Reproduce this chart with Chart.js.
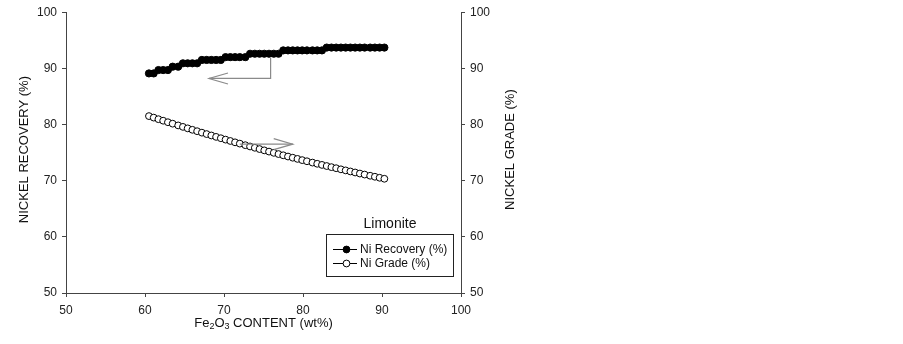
<!DOCTYPE html>
<html>
<head>
<meta charset="utf-8">
<script src="https://cdn.jsdelivr.net/npm/chart.js@4.4.1/dist/chart.umd.min.js"></script>
<style>
  html, body { margin: 0; padding: 0; background: #fff; }
  #wrap { width: 903px; height: 344px; }
</style>
</head>
<body>
<div id="wrap"><canvas id="chart" width="903" height="344"></canvas></div>
<script>
// Dados
const feContent = [
  60.5, 61.1, 61.7, 62.3, 62.9, 63.5, 64.2, 64.8, 65.4, 66.0,
  66.6, 67.2, 67.8, 68.4, 69.0, 69.6, 70.2, 70.8, 71.4, 72.0,
  72.7, 73.3, 73.9, 74.5, 75.1, 75.7, 76.3, 76.9, 77.5, 78.1,
  78.7, 79.3, 79.9, 80.5, 81.2, 81.8, 82.4, 83.0, 83.6, 84.2,
  84.8, 85.4, 86.0, 86.6, 87.2, 87.8, 88.5, 89.1, 89.7, 90.3
];
const niRecovery = [
  89.1, 89.1, 89.7, 89.7, 89.7, 90.3, 90.3, 90.9, 90.9, 90.9,
  90.9, 91.5, 91.5, 91.5, 91.5, 91.5, 92.0, 92.0, 92.0, 92.0,
  92.0, 92.6, 92.6, 92.6, 92.6, 92.6, 92.6, 92.6, 93.2, 93.2,
  93.2, 93.2, 93.2, 93.2, 93.2, 93.2, 93.2, 93.7, 93.7, 93.7,
  93.7, 93.7, 93.7, 93.7, 93.7, 93.7, 93.7, 93.7, 93.7, 93.7
];
const niGrade = [
  81.50, 81.23, 80.95, 80.68, 80.41, 80.15, 79.84, 79.58, 79.32, 79.06,
  78.81, 78.55, 78.30, 78.05, 77.80, 77.56, 77.31, 77.07, 76.83, 76.60,
  76.32, 76.09, 75.86, 75.63, 75.40, 75.18, 74.96, 74.74, 74.52, 74.30,
  74.09, 73.88, 73.66, 73.46, 73.22, 73.01, 72.81, 72.61, 72.41, 72.22,
  72.02, 71.83, 71.64, 71.46, 71.27, 71.09, 70.88, 70.70, 70.52, 70.34
];
const seriesNames = ['Ni Recovery (%)', 'Ni Grade (%)'];
const legendTitle = 'Limonite';
const leftTitle = 'NICKEL RECOVERY (%)';
const rightTitle = 'NICKEL GRADE (%)';
const xRange = [50, 100];
const yRange = [50, 100];

// Setas indicando o eixo de cada série (coordenadas em dados)
const recoveryArrow = { x: 75.9, yTop: 91.9, yCorner: 88.2, xTip: 68.1 };
const gradeArrow = { xStart: 72.0, xTip: 78.7, y: 76.5 };

const FONT = "'Liberation Sans', Arial, sans-serif";
const AXIS_COLOR = '#444';
const ARROW_COLOR = '#8a8a8a';

function toPoints(xs, ys) {
  return xs.map((x, i) => ({ x: x, y: ys[i] }));
}

// Desenha uma ponta de seta aberta
function arrowHead(ctx, tipX, tipY, dir) {
  ctx.beginPath();
  ctx.moveTo(tipX - dir * 19, tipY - 5.5);
  ctx.lineTo(tipX, tipY);
  ctx.lineTo(tipX - dir * 19, tipY + 5.5);
  ctx.stroke();
}

const extrasPlugin = {
  id: 'extras',
  afterDraw(chart) {
    const ctx = chart.ctx;
    const xs = chart.scales.x;
    const yl = chart.scales.y;
    const yr = chart.scales.y2;
    const area = chart.chartArea;
    const midY = (area.top + area.bottom) / 2 - 3;

    ctx.save();
    ctx.fillStyle = '#111';
    ctx.textBaseline = 'middle';
    ctx.textAlign = 'center';
    ctx.font = '13px ' + FONT;

    // Títulos dos eixos Y (lidos de baixo para cima)
    ctx.save();
    ctx.translate(24, midY);
    ctx.rotate(-Math.PI / 2);
    ctx.fillText(leftTitle, 0, 0);
    ctx.restore();

    ctx.save();
    ctx.translate(510, midY);
    ctx.rotate(-Math.PI / 2);
    ctx.fillText(rightTitle, 0, 0);
    ctx.restore();

    // Título do eixo X com subscritos
    const parts = [['Fe', 0], ['2', 1], ['O', 0], ['3', 1], [' CONTENT (wt%)', 0]];
    const big = '13px ' + FONT, small = '9px ' + FONT;
    let total = 0;
    parts.forEach(p => { ctx.font = p[1] ? small : big; total += ctx.measureText(p[0]).width; });
    let cx = (area.left + area.right) / 2 - total / 2;
    const ty = 323;
    ctx.textAlign = 'left';
    parts.forEach(p => {
      ctx.font = p[1] ? small : big;
      ctx.fillText(p[0], cx, p[1] ? ty + 4 : ty);
      cx += ctx.measureText(p[0]).width;
    });

    // Setas
    ctx.strokeStyle = ARROW_COLOR;
    ctx.lineWidth = 1.2;
    const ax = xs.getPixelForValue(recoveryArrow.x);
    const ayTop = yl.getPixelForValue(recoveryArrow.yTop);
    const ayCorner = yl.getPixelForValue(recoveryArrow.yCorner);
    const axTip = xs.getPixelForValue(recoveryArrow.xTip);
    ctx.beginPath();
    ctx.moveTo(ax, ayTop);
    ctx.lineTo(ax, ayCorner);
    ctx.lineTo(axTip, ayCorner);
    ctx.stroke();
    arrowHead(ctx, axTip, ayCorner, -1);

    const gx0 = xs.getPixelForValue(gradeArrow.xStart);
    const gx1 = xs.getPixelForValue(gradeArrow.xTip);
    const gy = yr.getPixelForValue(gradeArrow.y);
    ctx.beginPath();
    ctx.moveTo(gx0, gy);
    ctx.lineTo(gx1, gy);
    ctx.stroke();
    arrowHead(ctx, gx1, gy, 1);

    // Legenda
    ctx.fillStyle = '#111';
    ctx.textAlign = 'center';
    ctx.font = '14px ' + FONT;
    ctx.fillText(legendTitle, 390, 224);

    ctx.strokeStyle = '#222';
    ctx.lineWidth = 1;
    ctx.strokeRect(326.5, 234.5, 127, 42);

    ctx.textAlign = 'left';
    ctx.font = '12px ' + FONT;
    chart.data.datasets.forEach((ds, i) => {
      const ry = 249 + i * 14;
      ctx.strokeStyle = '#000';
      ctx.lineWidth = 1;
      ctx.beginPath();
      ctx.moveTo(333, ry + 0.5);
      ctx.lineTo(357, ry + 0.5);
      ctx.stroke();
      ctx.beginPath();
      ctx.arc(346.5, ry + 0.5, 3.4, 0, Math.PI * 2);
      ctx.fillStyle = ds.pointBackgroundColor;
      ctx.fill();
      ctx.stroke();
      ctx.fillStyle = '#111';
      ctx.fillText(ds.label, 360, ry + 1);
    });
    ctx.restore();
  }
};

function axisStyle(position) {
  return {
    type: 'linear',
    position: position,
    min: yRange[0],
    max: yRange[1],
    ticks: { stepSize: 10, color: '#222', font: { family: FONT, size: 12 }, padding: 5 },
    grid: { drawOnChartArea: false, drawTicks: true, tickLength: 4, color: AXIS_COLOR },
    border: { display: true, color: AXIS_COLOR, width: 1 },
    afterFit(scale) { scale.width = position === 'left' ? 66 : 60; }
  };
}

function initChart() {
  const ctx = document.getElementById('chart');
  new Chart(ctx, {
    type: 'line',
    data: {
      datasets: [
        {
          label: seriesNames[0],
          data: toPoints(feContent, niRecovery),
          yAxisID: 'y',
          borderColor: '#000',
          borderWidth: 1,
          pointRadius: 3.6,
          pointBackgroundColor: '#000',
          pointBorderColor: '#000',
          pointBorderWidth: 1,
          tension: 0
        },
        {
          label: seriesNames[1],
          data: toPoints(feContent, niGrade),
          yAxisID: 'y2',
          borderColor: '#000',
          borderWidth: 1,
          pointRadius: 3.4,
          pointBackgroundColor: '#fff',
          pointBorderColor: '#000',
          pointBorderWidth: 1,
          tension: 0
        }
      ]
    },
    options: {
      responsive: false,
      animation: false,
      layout: { padding: { top: 9, right: 382, left: 0, bottom: 0 } },
      plugins: { legend: { display: false }, tooltip: { enabled: false } },
      scales: {
        x: {
          type: 'linear',
          min: xRange[0],
          max: xRange[1],
          ticks: { stepSize: 10, color: '#222', font: { family: FONT, size: 12 }, padding: 6 },
          grid: { drawOnChartArea: false, drawTicks: true, tickLength: 4, color: AXIS_COLOR },
          border: { display: true, color: AXIS_COLOR, width: 1 },
          afterFit(scale) { scale.height = 51; }
        },
        y: axisStyle('left'),
        y2: axisStyle('right')
      }
    },
    plugins: [extrasPlugin]
  });
}

document.addEventListener('DOMContentLoaded', initChart);
</script>
</body>
</html>
